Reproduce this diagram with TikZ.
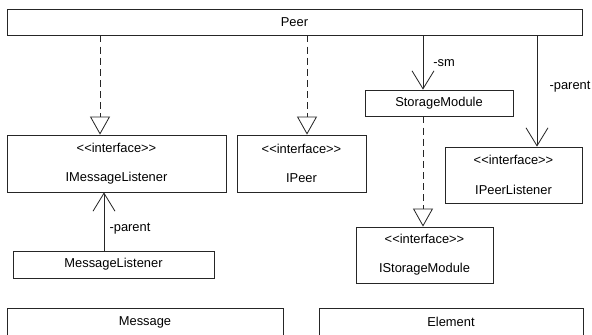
\documentclass[tikz,border=0pt]{standalone}
\usepackage{fontspec}
\setmainfont{Liberation Sans}
\usetikzlibrary{arrows.meta}

\tikzset{
    klass/.style={draw=black!85, line width=0.7pt, inner sep=0pt,
        font=\fontsize{11}{13}\selectfont, align=center},
    realize/.style={draw=black!85, line width=0.8pt, dash pattern=on 6pt off 3.5pt,
        -{Triangle[open, length=0.54cm, width=0.6cm, line width=0.7pt]}},
    assoc/.style={draw=black!85, line width=0.8pt,
        -{Straight Barb[length=0.54cm, width=0.66cm, line width=0.7pt]}},
    role/.style={font=\fontsize{11}{13}\selectfont, inner sep=0pt}
}

\begin{document}
\begin{tikzpicture}[x=0.03cm, y=-0.03cm]
    \useasboundingbox (0,0) rectangle (592,334);
    \clip (0,0) rectangle (592,334);

    % classes
    \node[klass, minimum width=17.25cm, minimum height=0.78cm]
        (peer) at (294.5,22) {Peer};
    \node[klass, minimum width=6.57cm, minimum height=1.71cm]
        (imsglist) at (116.5,163.5) {<{}<interface>{}>\\[12pt]IMessageListener};
    \node[klass, minimum width=3.87cm, minimum height=1.71cm]
        (ipeer) at (301.5,163.5) {<{}<interface>{}>\\[12pt]IPeer};
    \node[klass, minimum width=4.44cm, minimum height=0.78cm]
        (store) at (439,103) {StorageModule};
    \node[klass, minimum width=4.11cm, minimum height=1.68cm]
        (ipeerlist) at (513.5,175) {<{}<interface>{}>\\[12pt]IPeerListener};
    \node[klass, minimum width=4.11cm, minimum height=1.68cm]
        (istore) at (424.5,255) {<{}<interface>{}>\\[12pt]IStorageModule};
    \node[klass, minimum width=6.03cm, minimum height=0.81cm]
        (msglist) at (113.5,264.5) {MessageListener};
    \node[klass, minimum width=8.28cm, minimum height=0.84cm]
        (msg) at (145,322) {Message};
    \node[klass, minimum width=7.92cm, minimum height=0.84cm]
        (elem) at (451,322) {Element};

    % realizations
    \draw[realize] (peer.south -| 100,0) -- (imsglist.north -| 100,0);
    \draw[realize] (peer.south -| 307,0) -- (ipeer.north -| 307,0);
    \draw[realize] (store.south -| 423,0) -- (istore.north -| 423,0);

    % associations
    \draw[assoc] (peer.south -| 423,0) -- (store.north -| 423,0);
    \draw[assoc] (peer.south -| 537,0) -- (ipeerlist.north -| 537,0);
    \draw[assoc] (msglist.north -| 104,0) -- (imsglist.south -| 104,0);

    % role names
    \node[role] (smrole) at (444,63) {-sm};
    \node[role] (peerrole) at (570,87) {-parent};
    \node[role] (msgrole) at (130,229) {-parent};
\end{tikzpicture}
\end{document}
